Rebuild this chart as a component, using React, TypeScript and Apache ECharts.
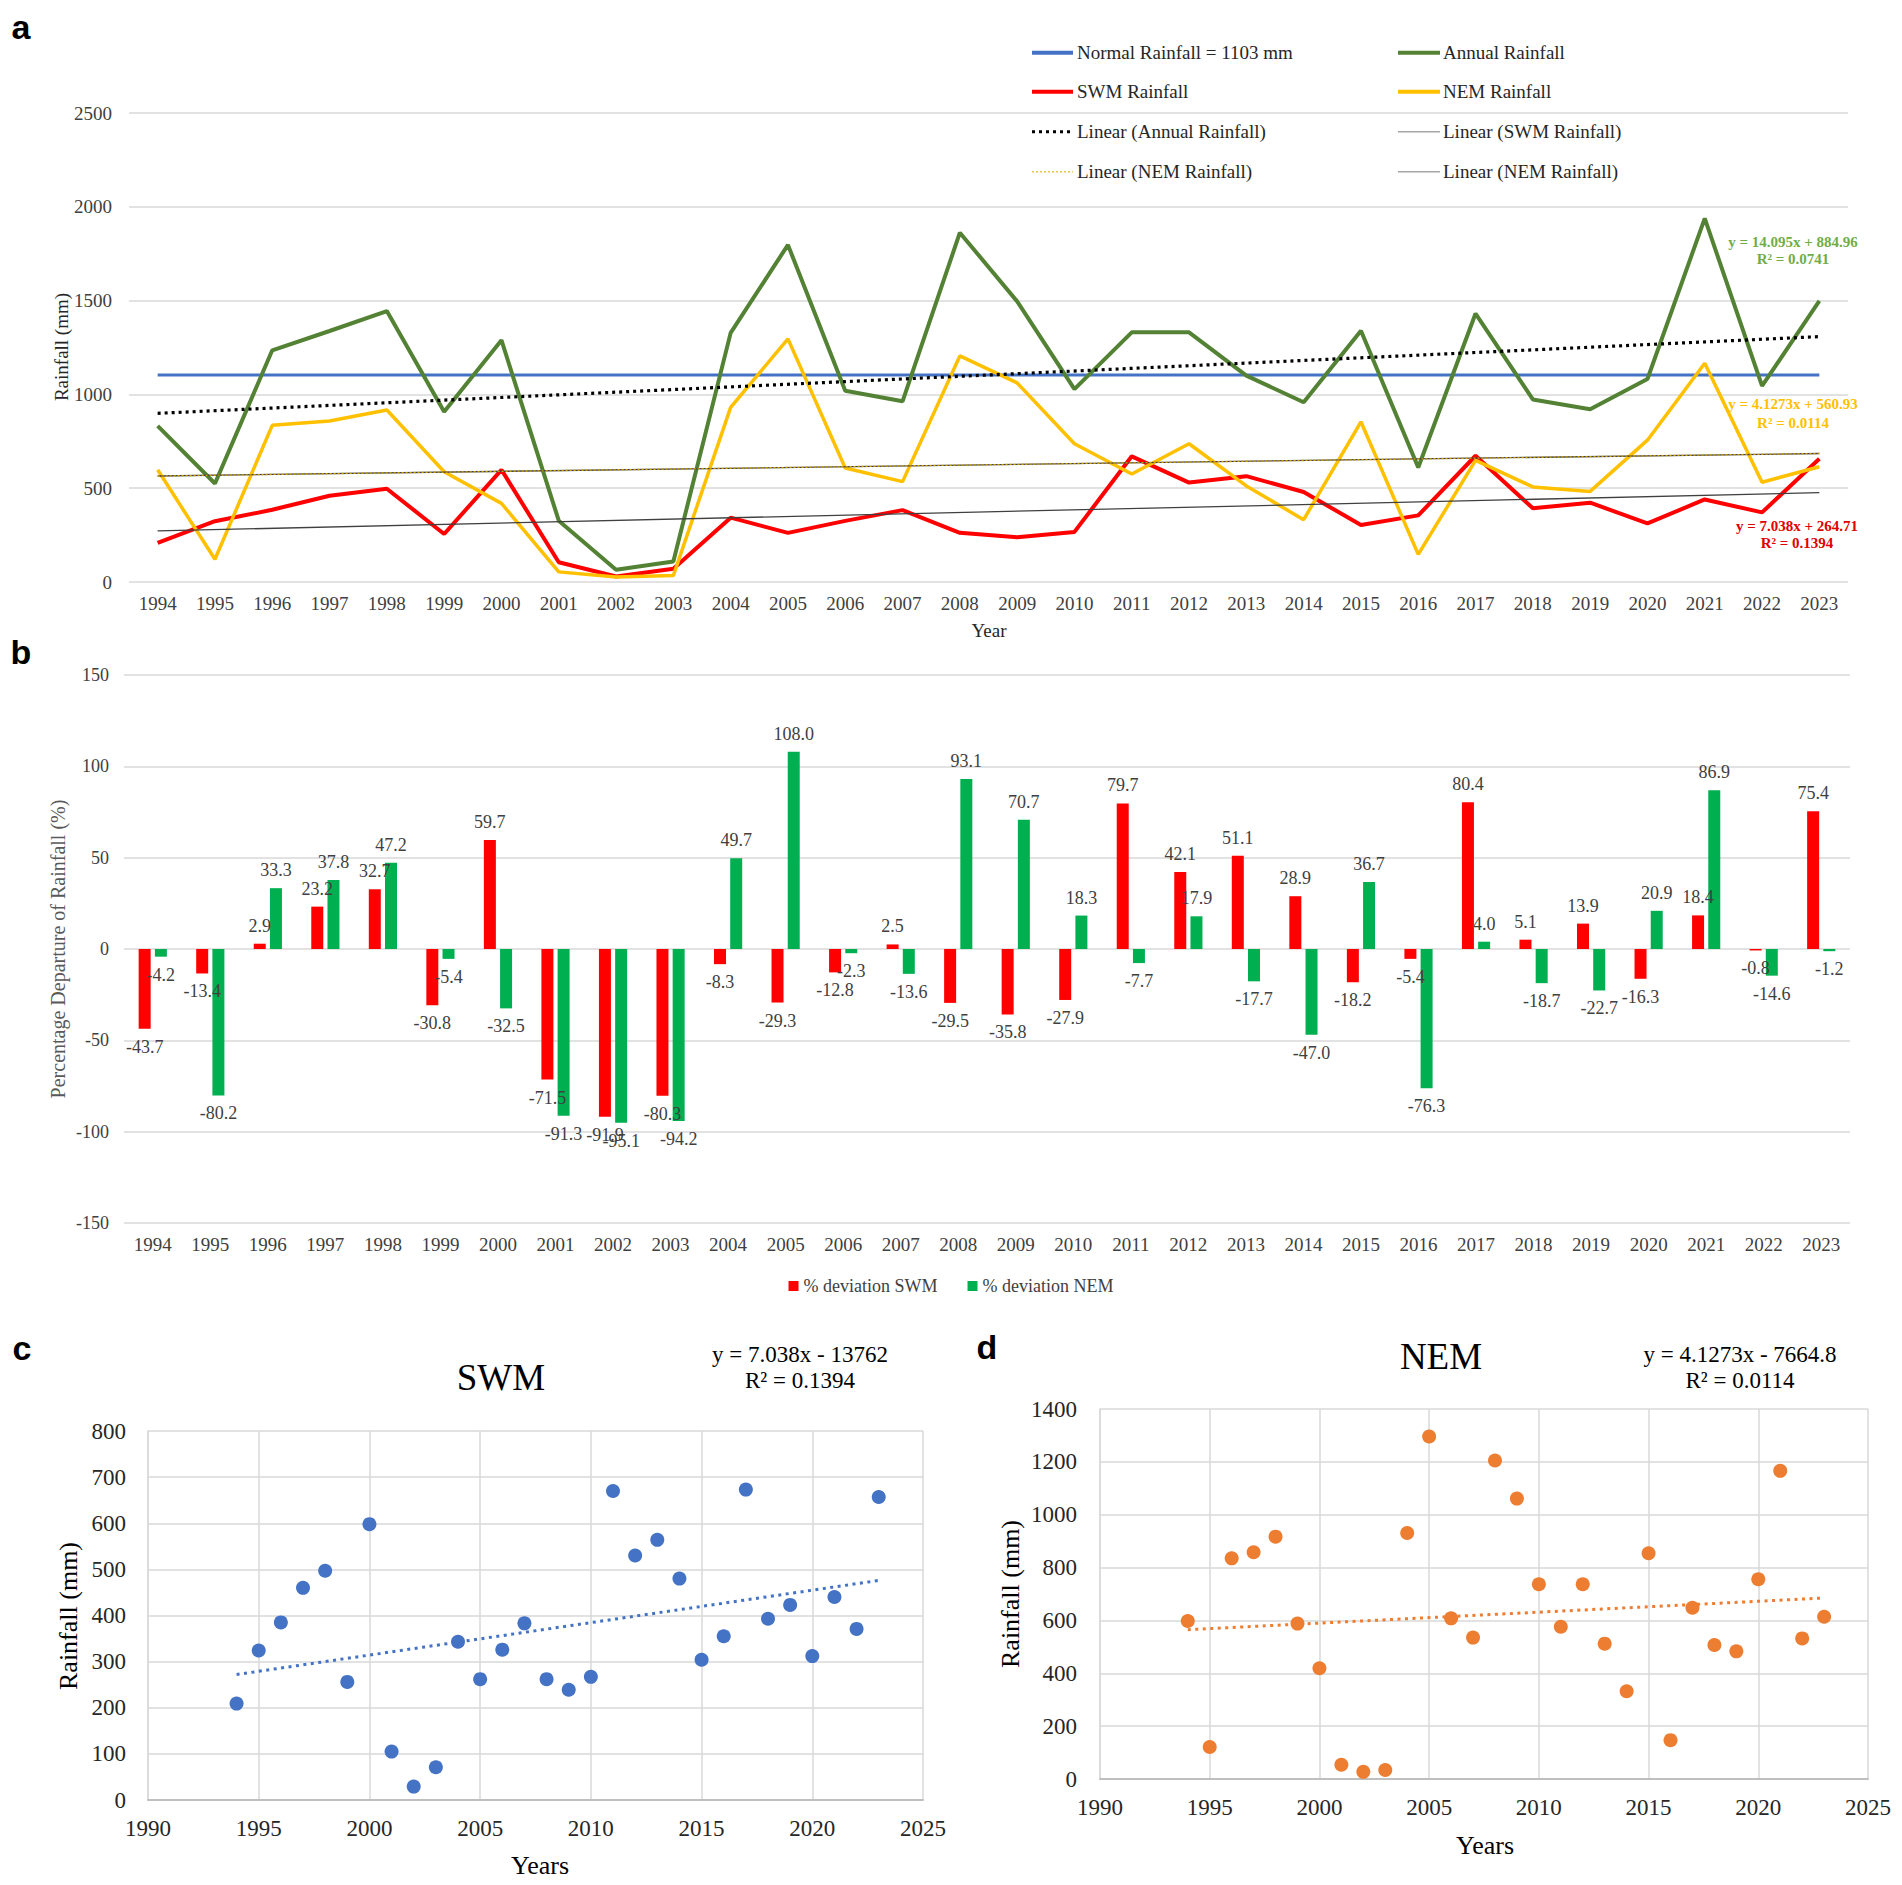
import React, { useEffect, useRef } from 'react';
import * as echarts from 'echarts';

const YEARS = [1994, 1995, 1996, 1997, 1998, 1999, 2000, 2001, 2002, 2003, 2004, 2005, 2006, 2007, 2008,
  2009, 2010, 2011, 2012, 2013, 2014, 2015, 2016, 2017, 2018, 2019, 2020, 2021, 2022, 2023];
const NORMAL_RAINFALL = 1103;
const ANNUAL_RAINFALL = [832, 525, 1235, 1338, 1444, 908, 1289, 327, 65, 109, 1328, 1797, 1019, 963, 1862,
  1496, 1028, 1331, 1331, 1100, 958, 1339, 610, 1431, 973, 921, 1082, 1938, 1045, 1498];
const SWM_RAINFALL = [209, 324, 385, 460, 497, 256, 598, 105, 29, 71, 343, 262, 326, 383, 262,
  239, 267, 670, 530, 564, 480, 304, 355, 673, 393, 423, 312, 440, 371, 657];
const NEM_RAINFALL = [598, 121, 835, 858, 917, 588, 419, 54, 27, 34, 931, 1296, 608, 535, 1205,
  1061, 737, 576, 737, 512, 332, 854, 147, 648, 507, 483, 756, 1166, 532, 614];
const ANNUAL_TREND_ENDS = [899, 1308];
const SWM_TREND_ENDS = [272, 476];
const NEM_TREND_ENDS = [565, 685];
const DEV_SWM = [-43.7, -13.4, 2.9, 23.2, 32.7, -30.8, 59.7, -71.5, -91.9, -80.3, -8.3, -29.3, -12.8, 2.5, -29.5,
  -35.8, -27.9, 79.7, 42.1, 51.1, 28.9, -18.2, -5.4, 80.4, 5.1, 13.9, -16.3, 18.4, -0.8, 75.4];
const DEV_NEM = [-4.2, -80.2, 33.3, 37.8, 47.2, -5.4, -32.5, -91.3, -95.1, -94.2, 49.7, 108.0, -2.3, -13.6, 93.1,
  70.7, 18.3, -7.7, 17.9, -17.7, -47.0, 36.7, -76.3, 4.0, -18.7, -22.7, 20.9, 86.9, -14.6, -1.2];

const A_Y_TICKS = [0, 500, 1000, 1500, 2000, 2500];
const B_Y_TICKS = [-150, -100, -50, 0, 50, 100, 150];
const C_Y_TICKS = [0, 100, 200, 300, 400, 500, 600, 700, 800];
const D_Y_TICKS = [0, 200, 400, 600, 800, 1000, 1200, 1400];
const SCATTER_X_TICKS = [1990, 1995, 2000, 2005, 2010, 2015, 2020, 2025];

const SERIF = '"Liberation Serif", "Times New Roman", serif';
const SANS = '"Liberation Sans", Arial, sans-serif';
const GRID_COLOR = '#D9D9D9';
const LABEL_COLOR = '#404040';

const BLUE = '#4472C4';
const GREEN = '#548235';
const RED = '#FF0000';
const YELLOW = '#FFC000';
const BAR_GREEN = '#00B050';
const ORANGE = '#ED7D31';

const plain = (v: number) => String(v);

function tickRange(t: number[]) {
  return { min: t[0], max: t[t.length - 1], interval: t[1] - t[0] };
}

function trendSeries(ends: number[]) {
  const last = YEARS.length - 1;
  return YEARS.map((_, i) => (i === 0 ? ends[0] : i === last ? ends[1] : null));
}

function txt(text: string, x: number, y: number, size: number, o: any = {}) {
  return {
    type: 'text',
    x,
    y,
    rotation: o.rot || 0,
    z: 100,
    style: {
      text,
      fontSize: size,
      fontFamily: o.family || SERIF,
      fontWeight: o.bold ? 'bold' : 'normal',
      fill: o.color || '#000',
      align: o.align || 'center',
      verticalAlign: 'middle',
      textAlign: o.align || 'center',
      textVerticalAlign: 'middle',
    },
  };
}

function legLine(x1: number, x2: number, y: number, stroke: string, width: number, dash?: number[]) {
  return {
    type: 'line',
    z: 100,
    shape: { x1, y1: y, x2, y2: y },
    style: { stroke, lineWidth: width, lineDash: dash || null },
  };
}

export default function App() {
  const ref = useRef<HTMLDivElement>(null);

  useEffect(() => {
    document.body.style.margin = '0';
    document.body.style.overflow = 'hidden';
    const chart = echarts.init(ref.current!, undefined, { renderer: 'svg' });
    const cats = YEARS.map(String);

    const catAxisLabel = { fontSize: 19, fontFamily: SERIF, color: LABEL_COLOR, margin: 12, interval: 0 };
    const valAxisLabel = (size: number, margin: number) => ({
      fontSize: size, fontFamily: SERIF, color: LABEL_COLOR, margin, formatter: plain,
    });
    const split = { show: true, lineStyle: { color: GRID_COLOR, width: 1.5 } };

    const legendRows = [52.7, 91.7, 131.7, 171.7];
    const c1 = [1032, 1073, 1077];
    const c2 = [1398, 1440, 1443];

    const option: any = {
      animation: false,
      backgroundColor: '#ffffff',
      textStyle: { fontFamily: SERIF },
      grid: [
        { left: 129, top: 113, width: 1719, height: 469 },
        { left: 124, top: 675, width: 1726, height: 548 },
        { left: 148, top: 1431, width: 775, height: 369 },
        { left: 1100, top: 1409, width: 768, height: 370 },
      ],
      legend: {
        data: ['% deviation SWM', '% deviation NEM'],
        left: 'center',
        top: 1272,
        icon: 'rect',
        itemWidth: 10,
        itemHeight: 10,
        itemGap: 30,
        itemStyle: { borderWidth: 0 },
        textStyle: { fontSize: 18, fontFamily: SERIF, fontWeight: 'normal', color: LABEL_COLOR },
      },
      xAxis: [
        {
          type: 'category', gridIndex: 0, data: cats, boundaryGap: true,
          axisLine: { show: false }, axisTick: { show: false }, axisLabel: catAxisLabel,
        },
        {
          type: 'category', gridIndex: 1, data: cats, boundaryGap: true,
          axisLine: { show: false }, axisTick: { show: false }, axisLabel: catAxisLabel,
        },
        {
          type: 'value', gridIndex: 2, ...tickRange(SCATTER_X_TICKS),
          splitLine: split, axisTick: { show: false },
          axisLine: { show: true, lineStyle: { color: '#BFBFBF', width: 2 } },
          axisLabel: { ...valAxisLabel(23, 17), color: '#262626' },
        },
        {
          type: 'value', gridIndex: 3, ...tickRange(SCATTER_X_TICKS),
          splitLine: split, axisTick: { show: false },
          axisLine: { show: true, lineStyle: { color: '#BFBFBF', width: 2 } },
          axisLabel: { ...valAxisLabel(23, 17), color: '#262626' },
        },
      ],
      yAxis: [
        {
          type: 'value', gridIndex: 0, ...tickRange(A_Y_TICKS),
          splitLine: split, axisLine: { show: false }, axisTick: { show: false },
          axisLabel: valAxisLabel(19, 17),
        },
        {
          type: 'value', gridIndex: 1, ...tickRange(B_Y_TICKS),
          splitLine: split, axisLine: { show: false }, axisTick: { show: false },
          axisLabel: valAxisLabel(18, 15),
        },
        {
          type: 'value', gridIndex: 2, ...tickRange(C_Y_TICKS),
          splitLine: split, axisLine: { show: true, lineStyle: { color: GRID_COLOR, width: 1.5 } },
          axisTick: { show: false },
          axisLabel: { ...valAxisLabel(23, 22), color: '#262626' },
        },
        {
          type: 'value', gridIndex: 3, ...tickRange(D_Y_TICKS),
          splitLine: split, axisLine: { show: true, lineStyle: { color: GRID_COLOR, width: 1.5 } },
          axisTick: { show: false },
          axisLabel: { ...valAxisLabel(23, 23), color: '#262626' },
        },
      ],
      series: [
        // Panel a
        {
          name: 'Normal Rainfall = 1103 mm', type: 'line', xAxisIndex: 0, yAxisIndex: 0,
          data: YEARS.map(() => NORMAL_RAINFALL), symbol: 'none',
          lineStyle: { color: BLUE, width: 3 },
        },
        {
          name: 'Annual Rainfall', type: 'line', xAxisIndex: 0, yAxisIndex: 0,
          data: ANNUAL_RAINFALL, symbol: 'none', lineStyle: { color: GREEN, width: 4 },
        },
        {
          name: 'SWM Rainfall', type: 'line', xAxisIndex: 0, yAxisIndex: 0,
          data: SWM_RAINFALL, symbol: 'none', lineStyle: { color: RED, width: 4 },
        },
        {
          name: 'NEM Rainfall', type: 'line', xAxisIndex: 0, yAxisIndex: 0,
          data: NEM_RAINFALL, symbol: 'none', lineStyle: { color: YELLOW, width: 3.5 },
        },
        {
          name: 'Linear (Annual Rainfall)', type: 'line', xAxisIndex: 0, yAxisIndex: 0,
          data: trendSeries(ANNUAL_TREND_ENDS), connectNulls: true, symbol: 'none',
          lineStyle: { color: '#000000', width: 3.2, type: [3, 4] },
        },
        {
          name: 'Linear (SWM Rainfall)', type: 'line', xAxisIndex: 0, yAxisIndex: 0,
          data: trendSeries(SWM_TREND_ENDS), connectNulls: true, symbol: 'none',
          lineStyle: { color: '#404040', width: 1.3 },
        },
        {
          name: 'Linear (NEM Rainfall) grey', type: 'line', xAxisIndex: 0, yAxisIndex: 0,
          data: trendSeries(NEM_TREND_ENDS), connectNulls: true, symbol: 'none',
          lineStyle: { color: '#404040', width: 1.3 },
        },
        {
          name: 'Linear (NEM Rainfall)', type: 'line', xAxisIndex: 0, yAxisIndex: 0,
          data: trendSeries(NEM_TREND_ENDS), connectNulls: true, symbol: 'none',
          lineStyle: { color: '#D9A300', width: 1.3, type: [2, 2] },
        },
        // Panel b
        {
          name: '% deviation SWM', type: 'bar', xAxisIndex: 1, yAxisIndex: 1,
          barWidth: 12, barGap: '35%', itemStyle: { color: RED },
          data: DEV_SWM.map((v) => ({ value: v, label: { position: v >= 0 ? 'top' : 'bottom' } })),
          label: {
            show: true, distance: 9, fontSize: 18, fontFamily: SERIF, color: LABEL_COLOR,
            formatter: (p: any) => Number(p.value).toFixed(1),
          },
        },
        {
          name: '% deviation NEM', type: 'bar', xAxisIndex: 1, yAxisIndex: 1,
          barWidth: 12, barGap: '35%', itemStyle: { color: BAR_GREEN },
          data: DEV_NEM.map((v) => ({ value: v, label: { position: v >= 0 ? 'top' : 'bottom' } })),
          label: {
            show: true, distance: 9, fontSize: 18, fontFamily: SERIF, color: LABEL_COLOR,
            formatter: (p: any) => Number(p.value).toFixed(1),
          },
        },
        // Panel c
        {
          name: 'SWM scatter', type: 'scatter', xAxisIndex: 2, yAxisIndex: 2,
          data: YEARS.map((y, i) => [y, SWM_RAINFALL[i]]), symbolSize: 14,
          itemStyle: { color: BLUE, opacity: 1 },
        },
        {
          name: 'SWM trend', type: 'line', xAxisIndex: 2, yAxisIndex: 2,
          data: [[YEARS[0], SWM_TREND_ENDS[0]], [YEARS[YEARS.length - 1], SWM_TREND_ENDS[1]]],
          symbol: 'none', lineStyle: { color: BLUE, width: 3, type: [3, 4.5] },
        },
        // Panel d
        {
          name: 'NEM scatter', type: 'scatter', xAxisIndex: 3, yAxisIndex: 3,
          data: YEARS.map((y, i) => [y, NEM_RAINFALL[i]]), symbolSize: 14,
          itemStyle: { color: ORANGE, opacity: 1 },
        },
        {
          name: 'NEM trend', type: 'line', xAxisIndex: 3, yAxisIndex: 3,
          data: [[YEARS[0], NEM_TREND_ENDS[0]], [YEARS[YEARS.length - 1], NEM_TREND_ENDS[1]]],
          symbol: 'none', lineStyle: { color: ORANGE, width: 3, type: [3, 4.5] },
        },
      ],
      graphic: [
        // panel letters
        txt('a', 21, 27, 34, { family: SANS, bold: true }),
        txt('b', 21, 652, 34, { family: SANS, bold: true }),
        txt('c', 22, 1348, 34, { family: SANS, bold: true }),
        txt('d', 987, 1347, 34, { family: SANS, bold: true }),
        // panel a legend
        legLine(c1[0], c1[1], legendRows[0], BLUE, 4),
        txt('Normal Rainfall = 1103 mm', c1[2], legendRows[0], 19, { align: 'left', color: '#262626' }),
        legLine(c2[0], c2[1], legendRows[0], GREEN, 4),
        txt('Annual Rainfall', c2[2], legendRows[0], 19, { align: 'left', color: '#262626' }),
        legLine(c1[0], c1[1], legendRows[1], RED, 4),
        txt('SWM Rainfall', c1[2], legendRows[1], 19, { align: 'left', color: '#262626' }),
        legLine(c2[0], c2[1], legendRows[1], YELLOW, 4),
        txt('NEM Rainfall', c2[2], legendRows[1], 19, { align: 'left', color: '#262626' }),
        legLine(c1[0], c1[1], legendRows[2], '#000000', 3, [3, 4]),
        txt('Linear (Annual Rainfall)', c1[2], legendRows[2], 19, { align: 'left', color: '#262626' }),
        legLine(c2[0], c2[1], legendRows[2], '#A6A6A6', 1.5),
        txt('Linear (SWM Rainfall)', c2[2], legendRows[2], 19, { align: 'left', color: '#262626' }),
        legLine(c1[0], c1[1], legendRows[3], '#E6C84A', 1.5, [2, 2]),
        txt('Linear (NEM Rainfall)', c1[2], legendRows[3], 19, { align: 'left', color: '#262626' }),
        legLine(c2[0], c2[1], legendRows[3], '#A6A6A6', 1.5),
        txt('Linear (NEM Rainfall)', c2[2], legendRows[3], 19, { align: 'left', color: '#262626' }),
        // panel a axis titles
        txt('Rainfall (mm)', 61, 347, 19, { rot: Math.PI / 2, color: '#262626' }),
        txt('Year', 989, 630, 19, { color: '#262626' }),
        // panel a trend equations
        txt('y = 14.095x + 884.96', 1793, 242, 15, { bold: true, color: '#70AD47' }),
        txt('R\u00B2 = 0.0741', 1793, 259, 15, { bold: true, color: '#70AD47' }),
        txt('y = 4.1273x + 560.93', 1793, 404, 15, { bold: true, color: YELLOW }),
        txt('R\u00B2 = 0.0114', 1793, 423, 15, { bold: true, color: YELLOW }),
        txt('y = 7.038x + 264.71', 1797, 526, 15, { bold: true, color: '#E00000' }),
        txt('R\u00B2 = 0.1394', 1797, 543, 15, { bold: true, color: '#E00000' }),
        // panel b axis title
        txt('Percentage Departure of Rainfall (%)', 58, 949, 20, { rot: Math.PI / 2, color: '#595959' }),
        // panel c
        txt('SWM', 501, 1377, 37, { color: '#000' }),
        txt('y = 7.038x - 13762', 800, 1354, 23, { color: '#000' }),
        txt('R\u00B2 = 0.1394', 800, 1380, 23, { color: '#000' }),
        txt('Rainfall (mm)', 68, 1616, 26, { rot: Math.PI / 2, color: '#000' }),
        txt('Years', 540, 1865, 26, { color: '#000' }),
        // panel d
        txt('NEM', 1441, 1356, 37, { color: '#000' }),
        txt('y = 4.1273x - 7664.8', 1740, 1354, 23, { color: '#000' }),
        txt('R\u00B2 = 0.0114', 1740, 1380, 23, { color: '#000' }),
        txt('Rainfall (mm)', 1010, 1594, 26, { rot: Math.PI / 2, color: '#000' }),
        txt('Years', 1485, 1845, 26, { color: '#000' }),
      ],
    };

    chart.setOption(option);
    return () => {
      chart.dispose();
    };
  }, []);

  return <div ref={ref} style={{ width: 1902, height: 1885 }} />;
}
